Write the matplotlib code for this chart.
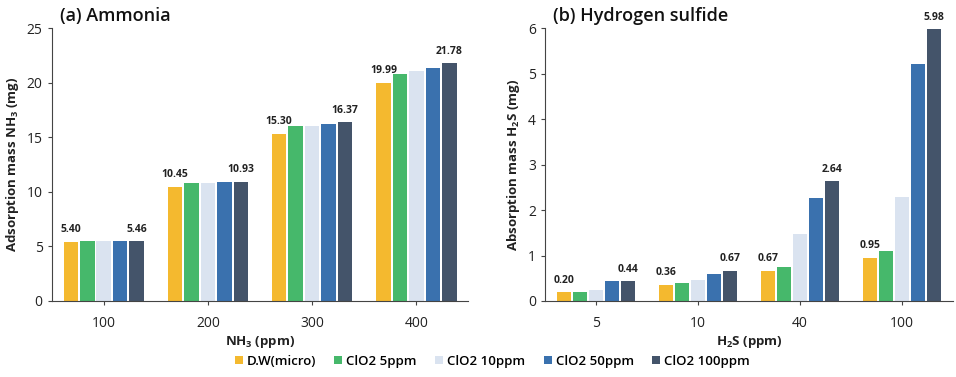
import matplotlib
matplotlib.use("Agg")
import matplotlib.pyplot as plt
import numpy as np

plt.rcParams['font.family'] = ['Open Sans', 'DejaVu Sans']
plt.rcParams['mathtext.fontset'] = 'custom'
plt.rcParams['mathtext.rm'] = 'Open Sans:bold'
plt.rcParams['mathtext.it'] = 'Open Sans:bold'
plt.rcParams['mathtext.bf'] = 'Open Sans:bold'
plt.rcParams['mathtext.default'] = 'rm'

series = ["D.W(micro)", "ClO2 5ppm", "ClO2 10ppm", "ClO2 50ppm", "ClO2 100ppm"]
colors = ["#F4B92F", "#46B86B", "#DAE3F0", "#3A71AE", "#44546A"]

nh3_cats = ["100", "200", "300", "400"]
nh3_dw = [5.40, 10.45, 15.30, 19.99]
nh3_5 = [5.46, 10.85, 16.05, 20.75]
nh3_10 = [5.45, 10.85, 16.05, 21.10]
nh3_50 = [5.46, 10.88, 16.20, 21.30]
nh3_100 = [5.46, 10.93, 16.37, 21.78]

h2s_cats = ["5", "10", "40", "100"]
h2s_dw = [0.20, 0.36, 0.67, 0.95]
h2s_5 = [0.20, 0.40, 0.75, 1.10]
h2s_10 = [0.24, 0.47, 1.48, 2.28]
h2s_50 = [0.43, 0.60, 2.26, 5.22]
h2s_100 = [0.44, 0.67, 2.64, 5.98]

fig = plt.figure(figsize=(9.56, 3.77), dpi=100)
ax1 = fig.add_axes([0.054, 0.2016, 0.436, 0.724])
ax2 = fig.add_axes([0.570, 0.2016, 0.427, 0.724])


def draw(ax, cats, data, ylim, yticks, ylabel, xlabel, title, lab_off):
    x = np.arange(len(cats))
    slot = 0.158
    bw = 0.14
    for i, (vals, c, name) in enumerate(zip(data, colors, series)):
        pos = x + (i - 2) * slot
        ax.bar(pos, vals, width=bw, color=c, label=name, zorder=2)
        if i in (0, 4):
            for p, v in zip(pos, vals):
                ax.text(p, v + lab_off, f"{v:.2f}", ha='center', va='bottom',
                        fontsize=7.5, fontweight='bold', color='#222222')
    ax.set_xlim(-0.5, 3.5)
    ax.set_ylim(*ylim)
    ax.set_yticks(yticks)
    ax.set_xticks(x)
    ax.set_xticklabels(cats)
    ax.tick_params(axis='both', labelsize=10, length=3, color='#444444', labelcolor='#222222')
    ax.tick_params(axis='x', pad=8)
    for s in ('top', 'right'):
        ax.spines[s].set_visible(False)
    for s in ('left', 'bottom'):
        ax.spines[s].set_color('#444444')
    ax.set_ylabel(ylabel, fontsize=9.5, fontweight='bold', color='#222222')
    ax.set_xlabel(xlabel, fontsize=9.5, fontweight='bold', color='#222222', labelpad=2)
    ax.set_title(title, fontsize=13, fontweight='semibold', loc='left', x=0.02, y=1.0,
                 pad=5, color='#111111')


draw(ax1, nh3_cats, [nh3_dw, nh3_5, nh3_10, nh3_50, nh3_100], (0, 25),
     [0, 5, 10, 15, 20, 25], "Adsorption mass NH$_3$ (mg)", "NH$_3$ (ppm)",
     "(a) Ammonia", 0.6)
draw(ax2, h2s_cats, [h2s_dw, h2s_5, h2s_10, h2s_50, h2s_100], (0, 6),
     [0, 1, 2, 3, 4, 5, 6], "Absorption mass H$_2$S (mg)", "H$_2$S (ppm)",
     "(b) Hydrogen sulfide", 0.14)

handles, labels = ax1.get_legend_handles_labels()
fig.legend(handles, labels, loc='center', bbox_to_anchor=(0.515, 0.042), ncol=5,
           frameon=False, handlelength=0.6, handleheight=0.6,
           handletextpad=0.3, columnspacing=1.4,
           prop={'weight': 'semibold', 'size': 9.5})

fig.savefig("out.png", dpi=100)
